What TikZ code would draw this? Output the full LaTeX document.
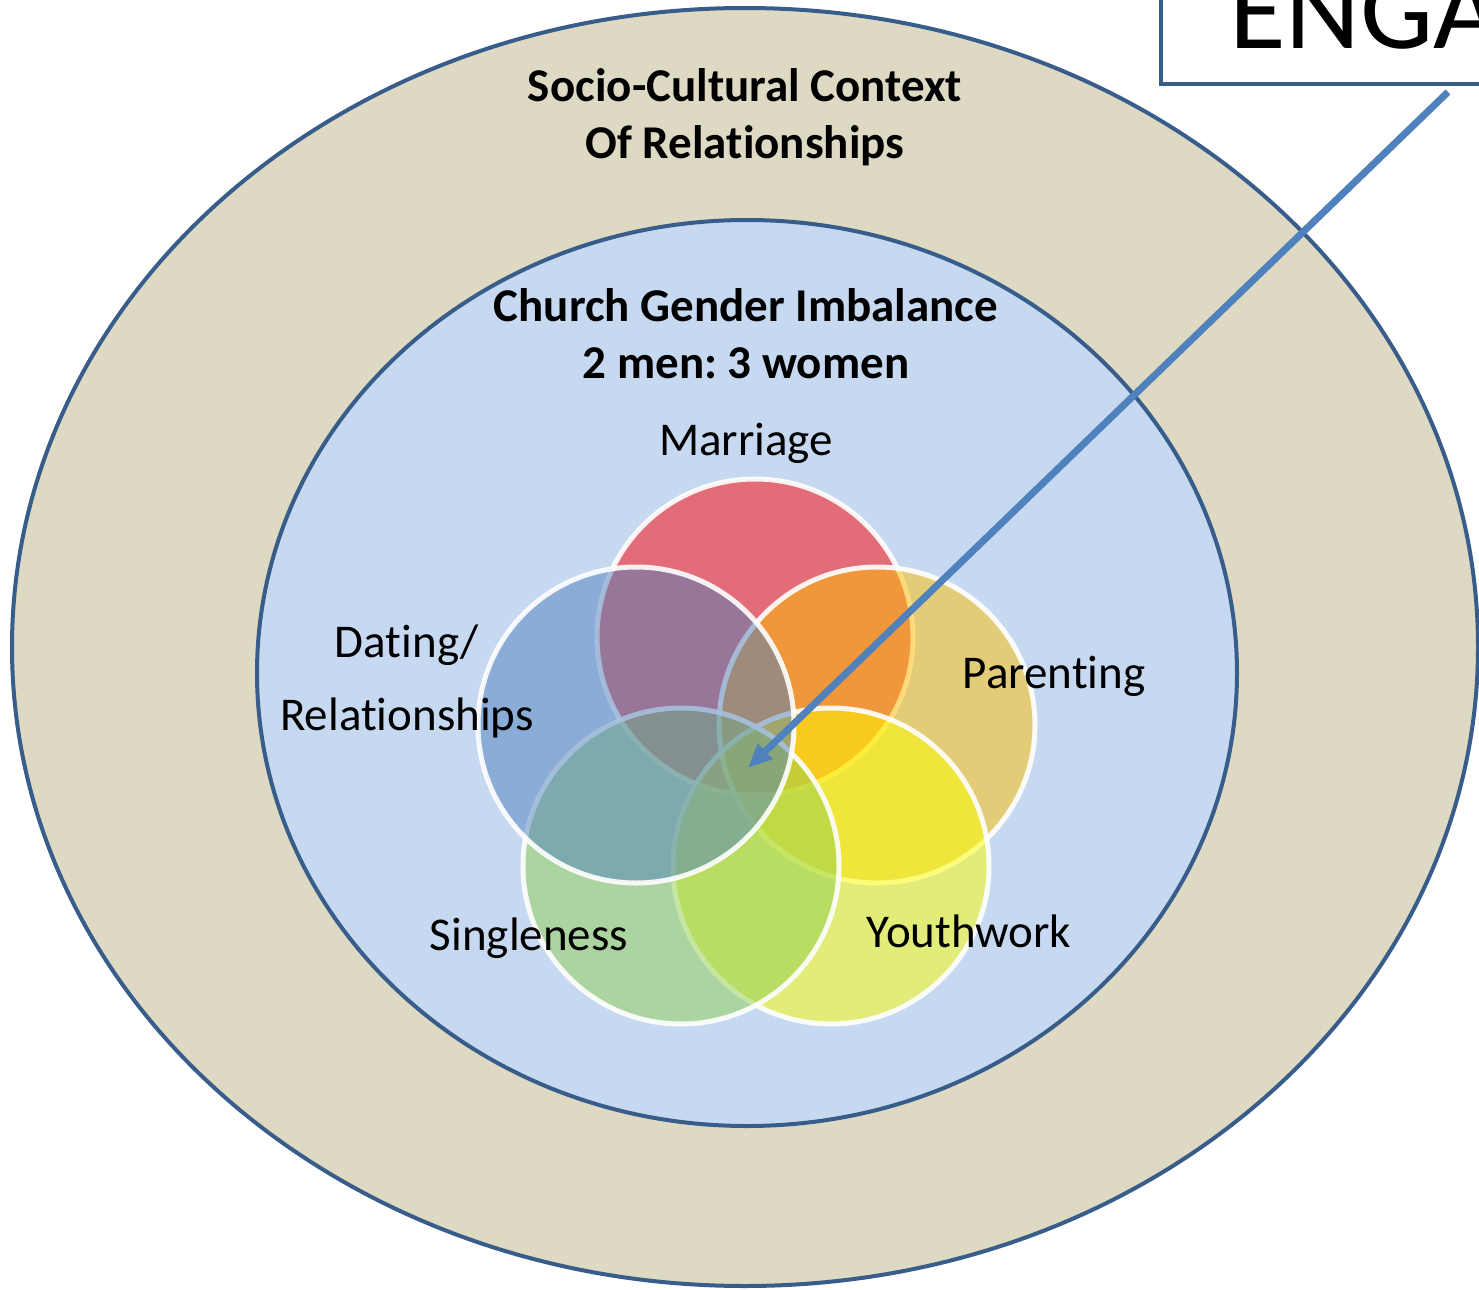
\documentclass[tikz,border=0pt]{standalone}
\usepackage{fontspec}
\setmainfont{Carlito}[Ligatures=NoCommon]
\usepackage{xcolor}
\usepackage{tikz}
\usetikzlibrary{arrows}
\usetikzlibrary{arrows.meta}
\frenchspacing
\definecolor{ringline}{RGB}{56,93,138}
\definecolor{ctxtan}{RGB}{221,217,195}
\definecolor{skyfill}{RGB}{198,217,241}
\definecolor{arrowblue}{RGB}{79,129,189}
\definecolor{marriage}{RGB}{255,0,0}
\definecolor{parenting}{RGB}{255,192,0}
\definecolor{youthwork}{RGB}{255,255,0}
\definecolor{singleness}{RGB}{146,208,80}
\definecolor{dating}{RGB}{79,129,189}

\begin{document}
\begin{tikzpicture}[x=0.5pt,y=-0.5pt]
    \tikzstyle{ring}=[draw=ringline,line width=2pt]
    \tikzstyle{venn}=[draw=white,line width=2.5pt,draw opacity=0.9,fill opacity=0.5]
    \tikzstyle{areatext}=[inner sep=0pt,align=center,font=\fontsize{23.5}{28.5}\selectfont]
    \tikzstyle{heading}=[areatext,font=\fontsize{23.5}{28.5}\selectfont\bfseries]
    \tikzstyle{engbox}=[draw=ringline,line width=2pt,fill=white,outer sep=0pt,inner xsep=34pt,inner ysep=18pt,
        text width=250pt,align=left,text depth=0pt,font=\fontsize{58}{60}\selectfont]
    \tikzstyle{pointer}=[arrowblue,line width=3.5pt,-{Triangle[length=12pt,width=10pt]}]
    \fill[white] (0,0) rectangle (1479,1290);
    \clip (0,0) rectangle (1479,1290);
    % Draw the context rings
    \draw[ring,fill=ctxtan] (745,647) ellipse [x radius=733, y radius=639];
    \draw[ring,fill=skyfill] (747,673) ellipse [x radius=490, y radius=453];
    % Draw the overlapping areas
    \foreach \cx/\cy/\col in {755/637/marriage, 877/725/parenting, 831/866/youthwork,
                              681/866/singleness, 636/725/dating}
        \draw[venn,fill=\col] (\cx,\cy) circle [radius=158];
    % Labels
    \node[heading] (socio) at (745,117) {Socio-Cultural Context\\Of Relationships};
    \node[heading] (church) at (746,334) {Church Gender Imbalance\\2 men: 3 women};
    \node[areatext,anchor=base] (marriagetxt) at (746,455) {Marriage};
    \node[areatext,font=\fontsize{23.5}{36.5}\selectfont] (datingtxt) at (407,681) {Dating/\\Relationships};
    \node[areatext,anchor=base] (parentingtxt) at (1054,688) {Parenting};
    \node[areatext,anchor=base] (singlenesstxt) at (529,950) {Singleness};
    \node[areatext,anchor=base] (youthworktxt) at (969,947) {Youthwork};
    % Draw the pointer from the box into the middle
    \node[engbox,anchor=south west] (eng) at (1161,84) {ENGA};
    \coordinate (engfoot) at (1448,92);
    \coordinate (hub) at (748,768);
    \draw[pointer] (engfoot) -- (hub);
\end{tikzpicture}
\end{document}
